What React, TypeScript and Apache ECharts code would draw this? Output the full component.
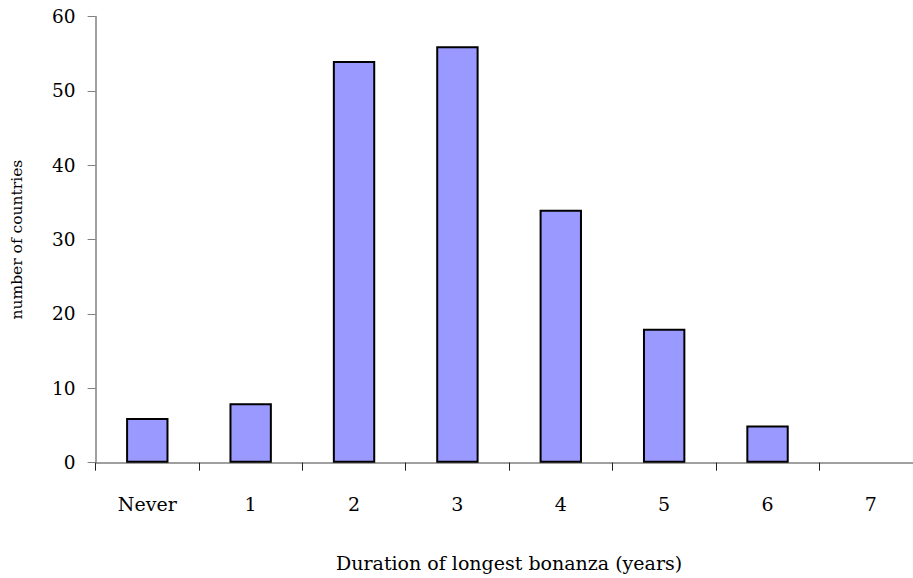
import React, { useEffect, useRef } from "react";
import * as echarts from "echarts";

const categories = ["Never", "1", "2", "3", "4", "5", "6", "7"];
const countries = [6, 8, 54, 56, 34, 18, 5, 0];
const yTicks = { min: 0, max: 60, interval: 10 };

const FONT = "DejaVu Serif";

export default function App() {
  const ref = useRef<HTMLDivElement>(null);
  useEffect(() => {
    const chart = echarts.init(ref.current!, null, { renderer: "svg" });
    chart.setOption({
      animation: false,
      backgroundColor: "#ffffff",
      grid: {
        left: 95.6,
        width: 827,
        top: 16.5,
        height: 446.2,
        containLabel: false,
        outerBoundsMode: "none",
      },
      xAxis: {
        type: "category",
        data: categories,
        name: "Duration of longest bonanza (years)",
        nameLocation: "middle",
        nameGap: 91,
        nameTextStyle: { fontFamily: FONT, fontSize: 19, color: "#000" },
        axisLine: { lineStyle: { color: "#808080", width: 1.5 } },
        axisTick: { show: true, length: 8, inside: false, lineStyle: { color: "#222", width: 1 } },
        axisLabel: { fontFamily: FONT, fontSize: 19, color: "#000", margin: 32 },
      },
      yAxis: {
        type: "value",
        min: yTicks.min,
        max: yTicks.max,
        interval: yTicks.interval,
        name: "number of countries",
        nameLocation: "middle",
        nameGap: 71,
        nameTextStyle: { fontFamily: FONT, fontSize: 15.5, color: "#000" },
        splitLine: { show: false },
        axisLine: { show: true, lineStyle: { color: "#808080", width: 1.5 } },
        axisTick: { show: true, length: 8, lineStyle: { color: "#808080", width: 1 } },
        axisLabel: { fontFamily: FONT, fontSize: 18.5, color: "#000", margin: 20 },
      },
      series: [
        {
          type: "bar",
          data: countries.map((v) => ({
            value: v,
            itemStyle: v === 0 ? { borderWidth: 0 } : undefined,
          })),
          barWidth: "41%",
          itemStyle: { color: "#9999FF", borderColor: "#000", borderWidth: 2 },
        },
      ],
    });
    return () => chart.dispose();
  }, []);
  return <div ref={ref} style={{ width: 913, height: 578, position: "absolute", left: 0, top: 0 }} />;
}
